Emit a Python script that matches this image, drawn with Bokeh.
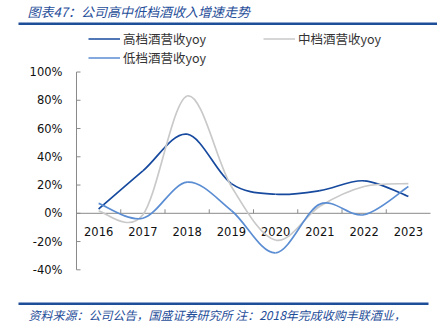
import numpy as np
from bokeh.plotting import figure
from bokeh.models import (Range1d, Legend, LegendItem, Label, BoxAnnotation, ColumnDataSource)
from bokeh.core.properties import value
from bokeh.embed import file_html
from bokeh.resources import INLINE

years = ["2016", "2017", "2018", "2019", "2020", "2021", "2022", "2023"]
high_yoy = [3, 30, 56, 21, 13.5, 16, 23, 12]
mid_yoy = [1.5, -1, 83, 19, -19, 5, 19, 21]
low_yoy = [7, -3.5, 22, 2, -28, 6.5, -1, 19]
series_names = ["高档酒营收yoy", "中档酒营收yoy", "低档酒营收yoy"]
y_ticks = [-40, -20, 0, 20, 40, 60, 80, 100]
y_tick_labels = [f"{t}%" for t in y_ticks]

title_text = "图表47：公司高中低档酒收入增速走势"
note_text = "资料来源：公司公告，国盛证券研究所 注：2018年完成收购丰联酒业，"

W, H = 437, 322
BLUE = "#1F4E99"
AXIS = "#8A8A8A"
colors = ["#174A9E", "#C9C9C9", "#5B8DD3"]

# plot geometry (pixels): category axis spans 76..430, 0% at y=212.8, 1% = 1.4128 px
n = len(years)
cat_px = (430 - 76) / n
unit_px = 1.4128
zero_y = 212.8
x_start = -76 / cat_px
x_end = (W - 76) / cat_px
y_top = zero_y / unit_px
y_bot = -(H - zero_y) / unit_px

p = figure(width=W, height=H, output_backend="svg", toolbar_location=None,
           x_range=Range1d(x_start, x_end), y_range=Range1d(y_bot, y_top),
           min_border=0)
p.outline_line_color = None
p.axis.visible = False
p.grid.visible = False

# y axis (drawn from tick arrays)
p.segment(x0=[0], y0=[y_ticks[0]], x1=[0], y1=[y_ticks[-1]], line_color=AXIS, line_width=1)
p.ray(x=np.zeros(len(y_ticks)), y=y_ticks, length=4, length_units="screen", angle=0,
      line_color=AXIS, line_width=1)
p.text(x=np.zeros(len(y_ticks)), y=y_ticks, text=y_tick_labels, x_offset=-14,
       text_align="right", text_baseline="middle", text_font_size="11.5px",
       text_color="#111111", text_font=value("DejaVu Sans"))

# x axis at zero
p.segment(x0=[0], y0=[0], x1=[n], y1=[0], line_color=AXIS, line_width=1)
bounds_x = np.arange(1, n)
p.ray(x=bounds_x, y=np.zeros(n - 1), length=4, length_units="screen", angle=np.pi / 2,
      line_color=AXIS, line_width=1)
centers = np.arange(n) + 0.5
p.text(x=centers, y=np.zeros(n), text=years, text_align="center",
       text_baseline="middle", y_offset=18, text_font_size="11.5px",
       text_color="#111111", text_font=value("DejaVu Sans"))


def bezier_source(vals):
    v = np.asarray(vals, dtype=float)
    xe = np.concatenate([[centers[0]], centers, [centers[-1]]])
    ve = np.concatenate([[v[0]], v, [v[-1]]])
    x0 = centers[:-1]; x1 = centers[1:]
    y0 = v[:-1]; y1 = v[1:]
    cx0 = x0 + (xe[2:-1] - xe[0:-3]) / 6.0
    cy0 = y0 + (ve[2:-1] - ve[0:-3]) / 6.0
    cx1 = x1 - (xe[3:] - xe[1:-2]) / 6.0
    cy1 = y1 - (ve[3:] - ve[1:-2]) / 6.0
    return ColumnDataSource(dict(x0=x0, y0=y0, x1=x1, y1=y1,
                                 cx0=cx0, cy0=cy0, cx1=cx1, cy1=cy1))


renderers = []
for vals, col in zip([high_yoy, mid_yoy, low_yoy], colors):
    src = bezier_source(vals)
    r = p.bezier(x0="x0", y0="y0", x1="x1", y1="y1", cx0="cx0", cy0="cy0",
                 cx1="cx1", cy1="cy1", source=src, line_color=col, line_width=1.7)
    renderers.append(r)

# legend: column-major fill -> order high, low, mid gives rows (high, mid) / (low)
order = [0, 2, 1]
legend = Legend(items=[LegendItem(label=series_names[i], renderers=[renderers[i]]) for i in order],
                ncols=2, location=(88, H - 67), margin=0, padding=0, spacing=0,
                glyph_width=32, glyph_height=15, label_height=15, label_width=140,
                label_standoff=3, border_line_color=None, background_fill_alpha=0,
                label_text_font="Noto Sans CJK SC", label_text_font_size="12.5px",
                label_text_color="#333333")
p.add_layout(legend, "center")

p.add_layout(Label(x=27, y=H - 10.5, x_units="screen", y_units="screen", text=title_text,
                   text_font="Noto Sans CJK SC", text_font_size="13px", text_font_style="italic",
                   text_color=BLUE, text_baseline="middle"))
p.add_layout(BoxAnnotation(left=18, right=W, bottom=H - 24.5, top=H - 22,
                           left_units="screen", right_units="screen",
                           bottom_units="screen", top_units="screen",
                           fill_color=BLUE, fill_alpha=1, line_color=None))
p.add_layout(Label(x=28, y=H - 313.5, x_units="screen", y_units="screen", text=note_text,
                   text_font="Noto Sans CJK SC", text_font_size="12px", text_font_style="italic",
                   text_color=BLUE, text_baseline="middle"))
p.add_layout(BoxAnnotation(left=18, right=428, bottom=H - 304.5, top=H - 302,
                           left_units="screen", right_units="screen",
                           bottom_units="screen", top_units="screen",
                           fill_color=BLUE, fill_alpha=1, line_color=None))

open("out.html", "w").write(file_html(p, INLINE))
